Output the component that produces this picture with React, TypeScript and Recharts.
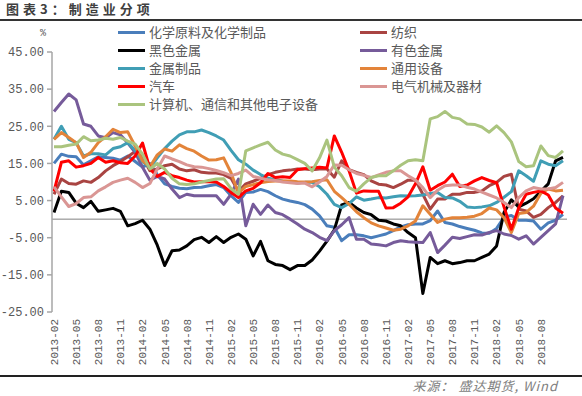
import React from "react";
import { LineChart, Line, XAxis, YAxis, ReferenceLine } from "recharts";

const months = [
  "2013-02","2013-03","2013-04","2013-05","2013-06","2013-07","2013-08","2013-09","2013-10","2013-11","2013-12",
  "2014-01","2014-02","2014-03","2014-04","2014-05","2014-06","2014-07","2014-08","2014-09","2014-10","2014-11","2014-12",
  "2015-01","2015-02","2015-03","2015-04","2015-05","2015-06","2015-07","2015-08","2015-09","2015-10","2015-11","2015-12",
  "2016-01","2016-02","2016-03","2016-04","2016-05","2016-06","2016-07","2016-08","2016-09","2016-10","2016-11","2016-12",
  "2017-01","2017-02","2017-03","2017-04","2017-05","2017-06","2017-07","2017-08","2017-09","2017-10","2017-11","2017-12",
  "2018-01","2018-02","2018-03","2018-04","2018-05","2018-06","2018-07","2018-08","2018-09","2018-10","2018-11",
];

const xTickLabels = [
  "2013-02","2013-05","2013-08","2013-11",
  "2014-02","2014-05","2014-08","2014-11",
  "2015-02","2015-05","2015-08","2015-11",
  "2016-02","2016-05","2016-08","2016-11",
  "2017-02","2017-05","2017-08","2017-11",
  "2018-02","2018-05","2018-08",
];

const chemicals = [15, 17.5, 16.9, 16.8, 14.6, 15.7, 16.8, 16.6, 16.4, 15.9,
  17, 15.5, 14, 15, 12, 9.5, 8.8, 8.3, 8.2, 8.5,
  8.6, 9, 9.3, 8.5, 6.3, 4.5, 7.2, 7.3, 8, 7.4,
  6.3, 5.4, 4.9, 4.5, 3.9, 2.7, 0.9, -1.8, -2.2, -5.8,
  -4.2, -4.2, -4.5, -5, -4.5, -4, -3.1, -2.1, -1.5, -1.3,
  -1.3, -0.4, 2.2, -0.9, -1.3, -2, -2.5, -3, -3.7, -3.8,
  -2.5, 0.5, 1, -0.3, -0.3, -0.5, -2.7, -1, -0.3, 1.3];

const textile = [6.7, 10.8, 9.6, 9.4, 10.3, 9.9, 11.2, 13, 14.4, 15.5,
  16.8, 18.2, 16.7, 13, 13.5, 14.4, 14.8, 13.5, 13, 13.3,
  12.6, 12.4, 12.4, 12, 11, 7.5, 9.5, 10.2, 11, 12,
  12.6, 13, 13.2, 13.5, 13.5, 13.3, 13.5, 13.5, 11.3, 15.7,
  13.3, 12.6, 12, 10.3, 9.4, 9.2, 8.5, 9.4, 10.5, 10.5,
  6.7, 2.7, 5.4, 5.4, 6.7, 6.7, 7.2, 7.2, 7.6, 9,
  9.9, 11.5, 12.1, 2.7, 2.2, 0.5, 1.3, 3.1, 4.5, 6.3];

const ferrous = [1.8, 7.5, 7.2, 4.3, 3.1, 4.8, 2.1, 2.5, 2.9, 2.1,
  -1.8, -1.2, -0.3, -2.7, -7, -12.5, -8.5, -8.3, -7.2, -5.5,
  -4.9, -6.3, -4.7, -6.3, -4.9, -4, -5.4, -9.9, -6, -11.2,
  -12.2, -12.5, -13.6, -12.5, -12.5, -11, -8.6, -5.9, -2.9, 3.8,
  4.5, 3, 1.8, 1.2, -0.3, -0.5, -1.3, -1.8, -3.6, -5,
  -20, -10.3, -12, -11.2, -12, -11.7, -11.2, -11.2, -10.3, -9.4,
  -7.2, 1.8, 5.2, 3.3, 4.3, 5.5, 7.5, 9.5, 15.7, 16.6];

const nonferrous = [29, 31.4, 33.7, 32.1, 25.6, 25, 22.4, 21.9, 23.3, 22.7,
  20.5, 18, 14, 10.5, 11.5, 10.8, 8.1, 5.8, 6.7, 6.3,
  6.3, 6.3, 6.3, 4, 6.7, 10.8, -1.8, 4, 1.3, 3.8,
  1.8, 1.2, 0, -1.3, -2.7, -3.6, -4.9, -5.8, -3.1, -1.5,
  0.4, -5.4, -5.4, -6.7, -6.9, -7.2, -6.3, -5.8, -6.1, -6.2,
  -6.3, -3.6, -9, -7, -4.9, -5.2, -4.7, -4.2, -4.3, -3.6,
  -3.1, -4, -4.4, -5.4, -4.5, -6.7, -4.9, -3.1, -1.3, 6.3];

const metalProducts = [21.5, 25, 21.5, 20.6, 17, 17.6, 17.6, 17.3, 19, 19.5,
  20.6, 18.5, 15.5, 13.8, 16.5, 19, 21, 22.7, 23.5, 23.5,
  24, 23.3, 22.4, 21.3, 18.5, 16, 14.8, 13.2, 12, 11,
  10.6, 10.3, 10.1, 9.7, 9.9, 9.9, 8.7, 6.7, 4, 3.1,
  4.2, 6, 5.1, 5.4, 5.8, 5.7, 6, 6.3, 6.2, 6.3,
  6.5, 6.9, 7.2, 5.8, 5.7, 4.8, 3.3, 3.1, 3.3, 3.6,
  4.5, 5.9, 7.4, 13, 11.7, 10.2, 15.7, 14.8, 14.4, 15.7];

const generalEquip = [21.5, 23.3, 22, 20.6, 16.6, 18, 20.6, 22.2, 24.2, 23.3,
  23.5, 19.7, 15.7, 14.1, 17.3, 18.9, 18.3, 20, 19, 18.3,
  17, 15.9, 16, 16.5, 12.5, 7, 8.8, 9.3, 9.8, 10.1,
  10.3, 10.3, 10.3, 10.1, 10, 10.1, 10.4, 10.6, 7.5, 5.8,
  4, 2, 0.4, -1, -1.8, -2.4, -3, -2.7, -1.8, -0.5,
  3.6, 1.3, -0.9, 0, 0.4, 0.4, 0.5, 0.8, 1.5, 3,
  2.5, 0.4, -3.6, 1.5, 1.8, 3.5, 7, 8.1, 7.6, 7.8];

const autos = [7.5, 15.3, 15.7, 14, 14.4, 15, 16.6, 15.3, 15.7, 15.2,
  15, 17, 20.5, 13.5, 11.5, 12.6, 11.7, 11.2, 10.5, 10,
  10.1, 10.1, 10, 8.8, 7.2, 5.8, 7.6, 8.3, 9.8, 12.3,
  11.2, 11.4, 11.2, 13.3, 13.6, 13.8, 14, 13.8, 22.4, 18,
  13, 7, 7.6, 7.5, 7.5, 3, 3.1, 4.3, 6, 9.5,
  14.1, 7.8, 9, 10, 12.1, 8.8, 9.2, 10.3, 11.2, 10.4,
  9.8, 3.3, -2.7, 3.1, 6.7, 7.2, 7.6, 6.5, 3, 1.6];

const electrical = [8.7, 6, 3.4, 4.2, 5.8, 6, 7.6, 8.7, 9.9, 10.5,
  11, 9.9, 8.5, 9.6, 13.5, 17, 16.2, 15.5, 14.6, 14.1,
  14, 13.6, 13.1, 12.5, 11.7, 12.3, 13.2, 11.5, 11, 10.6,
  10.4, 10, 9.8, 9.6, 9.7, 8.7, 10, 11.5, 14.6, 14.5,
  13.3, 12.3, 11.8, 11.2, 11.9, 12.6, 13, 13, 11.7, 10.5,
  8.5, 5.8, 7.8, 9, 9.2, 9.2, 8.6, 8.1, 7.3, 6.5,
  5.7, 4.5, 3.1, 5.8, 7.6, 8.5, 8.1, 8.1, 8.5, 9.9];

const computers = [19.5, 19.5, 19.9, 20.2, 22.2, 21.1, 21.3, 21.8, 21.5, 22,
  21, 20.2, 17.5, 13.5, 15, 13.5, 11, 9.5, 9.3, 9.5,
  10, 10.4, 10.8, 10.9, 8.2, 6.7, 18.4, 19.2, 20, 20.7,
  18.6, 17.5, 17, 16, 15, 13, 16.5, 21.3, 14, 11.7,
  8.5, 7.5, 9.5, 11.2, 11.7, 11.7, 13, 14.5, 15.7, 16,
  15.7, 27, 27.6, 29, 27.4, 27, 25.6, 25.5, 24.8, 23.4,
  25.1, 23.3, 20.8, 15.5, 14.1, 14.4, 19.7, 17.1, 16.6, 18.4];

const yTicks = [-25, -15, -5, 5, 15, 25, 35, 45];

const series = [
  { key: "chemicals", name: "化学原料及化学制品", color: "#4A7EBB", values: chemicals },
  { key: "textile", name: "纺织", color: "#A94442", values: textile },
  { key: "ferrous", name: "黑色金属", color: "#000000", values: ferrous },
  { key: "nonferrous", name: "有色金属", color: "#765B9A", values: nonferrous },
  { key: "metalProducts", name: "金属制品", color: "#409EB5", values: metalProducts },
  { key: "generalEquip", name: "通用设备", color: "#E3843A", values: generalEquip },
  { key: "autos", name: "汽车", color: "#FF0000", values: autos },
  { key: "electrical", name: "电气机械及器材", color: "#DA9694", values: electrical },
  { key: "computers", name: "计算机、通信和其他电子设备", color: "#AAC47E", values: computers },
];

const data = months.map((m, i) => {
  const row: Record<string, any> = { month: m };
  series.forEach((s) => {
    row[s.key] = s.values[i];
  });
  return row;
});

const MONO = '"Liberation Mono", "DejaVu Sans Mono", monospace';
const CJK = '"Noto Sans CJK SC", "Noto Sans", sans-serif';

function MonthTick(props: any) {
  const { x, payload } = props;
  return (
    <text
      x={0}
      y={0}
      transform={`translate(${x},319) rotate(-90)`}
      textAnchor="end"
      dy="0.35em"
      fill="#595959"
      fontSize={11}
      fontFamily={MONO}
    >
      {payload.value}
    </text>
  );
}

const legendCols = [118, 360];
const legendRows = [32, 50, 68, 86, 104];

export default function App() {
  return (
    <div
      style={{
        position: "absolute",
        left: 0,
        top: 0,
        width: 582,
        height: 396,
        background: "#ffffff",
        overflow: "hidden",
        fontFamily: CJK,
      }}
    >
      <div style={{ position: "absolute", left: 0, top: 0 }}>
        <LineChart
          width={582}
          height={396}
          data={data}
          margin={{ top: 52, right: 15, bottom: 24, left: 0 }}
        >
          <XAxis
            dataKey="month"
            ticks={xTickLabels}
            interval={0}
            axisLine={false}
            tickLine={false}
            tick={MonthTick}
            height={60}
            padding={{ left: 2, right: 4 }}
          />
          <YAxis
            domain={[-25, 45]}
            ticks={yTicks}
            interval={0}
            width={52}
            tickSize={5}
            tickMargin={3}
            allowDataOverflow
            axisLine={{ stroke: "#A6A6A6", strokeWidth: 1.5 }}
            tickLine={{ stroke: "#A6A6A6", strokeWidth: 1.5 }}
            tick={{ fill: "#595959", fontSize: 12, fontFamily: MONO }}
            tickFormatter={(v: number) => v.toFixed(2)}
          />
          <ReferenceLine y={0} stroke="#808080" strokeWidth={1} />
          {series.map((s) => (
            <Line
              key={s.key}
              type="linear"
              dataKey={s.key}
              name={s.name}
              stroke={s.color}
              strokeWidth={3}
              dot={false}
              activeDot={false}
              isAnimationActive={false}
              strokeLinejoin="round"
            />
          ))}
        </LineChart>
      </div>

      <div
        style={{
          position: "absolute",
          left: 6,
          top: 0,
          fontSize: 13,
          fontWeight: 700,
          color: "#404040",
          letterSpacing: 4,
          lineHeight: "18px",
          whiteSpace: "nowrap",
        }}
      >
        图表3：制造业分项
      </div>
      <div style={{ position: "absolute", left: 0, top: 19, width: 582, height: 2, background: "#333333" }} />

      <div
        style={{
          position: "absolute",
          left: 40,
          top: 28,
          fontSize: 10,
          color: "#595959",
          fontFamily: MONO,
        }}
      >
        %
      </div>

      {series.map((s, i) => {
        const col = i % 2;
        const row = Math.floor(i / 2);
        return (
          <div
            key={s.key}
            style={{
              position: "absolute",
              left: legendCols[col],
              top: legendRows[row] - 9,
              height: 18,
              display: "flex",
              alignItems: "center",
              whiteSpace: "nowrap",
            }}
          >
            <span style={{ display: "inline-block", width: 27, height: 3, background: s.color }} />
            <span style={{ marginLeft: 4, fontSize: 13, color: "#595959", lineHeight: "18px" }}>{s.name}</span>
          </div>
        );
      })}

      <div style={{ position: "absolute", left: 0, top: 375, width: 582, height: 2, background: "#222222" }} />
      <div
        style={{
          position: "absolute",
          right: 24,
          top: 377,
          fontSize: 13,
          fontStyle: "italic",
          color: "#808080",
          whiteSpace: "nowrap",
          lineHeight: "18px",
          letterSpacing: 1,
        }}
      >
        来源： 盛达期货, Wind
      </div>
    </div>
  );
}
